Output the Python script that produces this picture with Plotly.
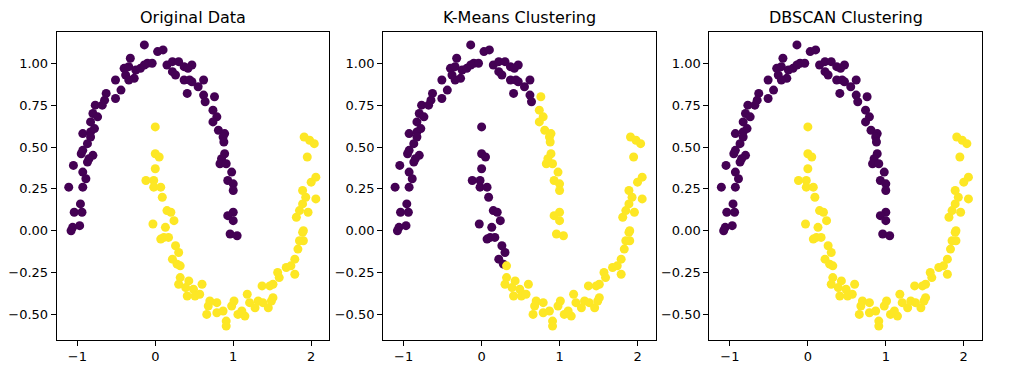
import numpy as np
import plotly.graph_objects as go

# Upper moon (cluster 0) points
upper_x = [-0.14, 0.03, 0.10, -0.32, -0.10, -0.04, 0.15, 0.22, 0.30, 0.37, 0.47, -0.40, -0.34, -0.25, -0.19,
           -0.14, -0.38, -0.27, -0.34, 0.22, 0.26, 0.37, 0.47, -0.51, -0.44, -0.51, -0.63, -0.65, 0.41, -0.77,
           -0.68, -0.80, -0.74, -0.83, -0.93, -0.83, -0.78, 0.42, 0.44, 0.55, 0.62, 0.62, 0.76, 0.64, 0.74,
           0.79, 0.74, 0.81, 0.89, 0.87, -0.87, -0.83, -0.95, -0.93, -0.80, -0.87, -0.85, -1.05, -0.93, -0.89,
           -1.11, -0.93, -0.96, -1.04, -0.94, -1.06, -0.97, -1.08, 0.88, 0.89, 0.85, 0.83, 0.91, 0.98, 0.93,
           1.00, 1.00, 1.00, 0.93, 1.00, 0.96, 1.05]
upper_y = [1.11, 1.07, 1.08, 1.03, 1.00, 1.00, 0.99, 1.01, 1.01, 0.98, 0.99, 0.97, 0.98, 0.96, 0.97,
           0.99, 0.93, 0.91, 0.90, 0.95, 0.93, 0.90, 0.89, 0.90, 0.84, 0.79, 0.82, 0.78, 0.82, 0.75,
           0.75, 0.70, 0.68, 0.65, 0.58, 0.59, 0.61, 0.97, 0.90, 0.86, 0.90, 0.81, 0.80, 0.77, 0.72,
           0.68, 0.65, 0.60, 0.58, 0.56, 0.52, 0.56, 0.46, 0.48, 0.45, 0.41, 0.43, 0.39, 0.35, 0.31,
           0.26, 0.26, 0.16, 0.11, 0.11, 0.02, 0.03, 0.00, 0.53, 0.46, 0.43, 0.40, 0.40, 0.35, 0.30,
           0.28, 0.24, 0.11, 0.09, 0.06, -0.02, -0.03]

# Lower moon (cluster 1) points
lower_x = [0.00, 0.00, 0.05, 0.00, -0.12, -0.02, -0.02, 0.07, 0.09, 0.15, 0.20, 0.24, -0.03, 0.13, 0.11,
           0.17, 0.07, 0.26, 0.30, 0.22, 0.28, 0.32, 0.32, 0.43, 0.30, 0.39, 0.49, 0.41, 0.51, 0.60,
           0.57, 0.70, 0.68, 0.66, 0.79, 0.79, 0.87, 0.98, 1.01, 1.06, 1.15, 1.11, 1.18, 1.21, 1.28,
           1.32, 1.38, 1.45, 1.51, 1.49, 0.91, 0.91, 1.37, 1.47, 1.51, 1.59, 1.57, 1.79, 1.68, 1.74,
           1.79, 1.83, 1.85, 1.90, 1.89, 1.90, 1.81, 1.85, 1.96, 1.89, 1.93, 2.06, 1.89, 2.00, 2.06,
           1.95, 1.91, 1.98, 2.04]
lower_y = [0.62, 0.46, 0.44, 0.37, 0.30, 0.30, 0.26, 0.26, 0.20, 0.12, 0.11, 0.06, 0.04, 0.02, -0.04,
           -0.04, -0.05, -0.09, -0.13, -0.17, -0.20, -0.21, -0.28, -0.30, -0.32, -0.34, -0.35, -0.39, -0.39, -0.32,
           -0.38, -0.42, -0.45, -0.50, -0.43, -0.49, -0.48, -0.45, -0.42, -0.50, -0.51, -0.48, -0.38, -0.43, -0.46,
           -0.42, -0.43, -0.46, -0.40, -0.42, -0.54, -0.57, -0.33, -0.33, -0.32, -0.28, -0.25, -0.26, -0.22, -0.21,
           -0.17, -0.11, -0.06, -0.06, -0.01, 0.00, 0.08, 0.12, 0.11, 0.16, 0.20, 0.19, 0.24, 0.29, 0.32,
           0.44, 0.56, 0.54, 0.52]

titles = ["Original Data", "K-Means Clustering", "DBSCAN Clustering"]
x_ticks = [-1, 0, 1, 2]
y_ticks = [-0.50, -0.25, 0.00, 0.25, 0.50, 0.75, 1.00]
colors = ["#440154", "#fde725"]

X = np.array(upper_x + lower_x)
Y = np.array(upper_y + lower_y)
true_labels = np.array([0] * len(upper_x) + [1] * len(lower_x))

# K-Means (k=2, Lloyd's algorithm)
pts = np.column_stack([X, Y])
cent = np.array([pts[np.argmin(X)], pts[np.argmax(X)]])
for _ in range(100):
    d = ((pts[:, None, :] - cent[None, :, :]) ** 2).sum(-1)
    km = d.argmin(1)
    new = np.array([pts[km == k].mean(0) for k in range(2)])
    if np.allclose(new, cent):
        break
    cent = new
if km[np.argmin(X)] != 0:
    km = 1 - km

dbscan_labels = true_labels.copy()
label_sets = [true_labels, km, dbscan_labels]

# page body has an 8px margin: lay out in a 1007x363 figure
OFF = 8
W, H = 1015 - OFF, 371 - OFF
lefts = [51 - OFF, 379.3 - OFF, 707.5 - OFF]
width = 274.3
top, bottom = 31.5 - OFF, 339.5 - OFF

fig = go.Figure()
for i, labels in enumerate(label_sets):
    ax = "" if i == 0 else str(i + 1)
    cols = [colors[l] for l in labels]
    fig.add_trace(go.Scatter(
        x=X, y=Y, mode="markers",
        marker=dict(color=cols, size=9, line=dict(width=0)),
        xaxis="x" + ax, yaxis="y" + ax, showlegend=False,
    ))
    dom_x = [lefts[i] / W, (lefts[i] + width) / W]
    dom_y = [1 - bottom / H, 1 - top / H]
    common = dict(showline=True, mirror=True, linecolor="black", linewidth=1,
                  ticks="outside", ticklen=5, tickcolor="black", tickwidth=1,
                  showgrid=False, zeroline=False,
                  tickfont=dict(family="DejaVu Sans", size=13, color="black"))
    fig.update_layout(**{
        "xaxis" + ax: dict(domain=dom_x, range=[-1.264, 2.234], tickvals=x_ticks,
                           ticktext=[str(v).replace("-", "\u2212") for v in x_ticks],
                           anchor="y" + ax, **common),
        "yaxis" + ax: dict(domain=dom_y, range=[-0.65, 1.19], tickvals=y_ticks,
                           ticktext=[f"{v:.2f}".replace("-", "\u2212") for v in y_ticks],
                           anchor="x" + ax, **common),
    })
    fig.add_annotation(text=titles[i], x=(lefts[i] + width / 2) / W, y=1 - (17 - OFF) / H,
                       xref="paper", yref="paper", showarrow=False, xanchor="center", yanchor="middle",
                       font=dict(family="DejaVu Sans", size=16, color="black"))

fig.update_layout(width=W, height=H, margin=dict(l=0, r=0, t=0, b=0),
                  paper_bgcolor="white", plot_bgcolor="white")
fig.write_html("out.html")
